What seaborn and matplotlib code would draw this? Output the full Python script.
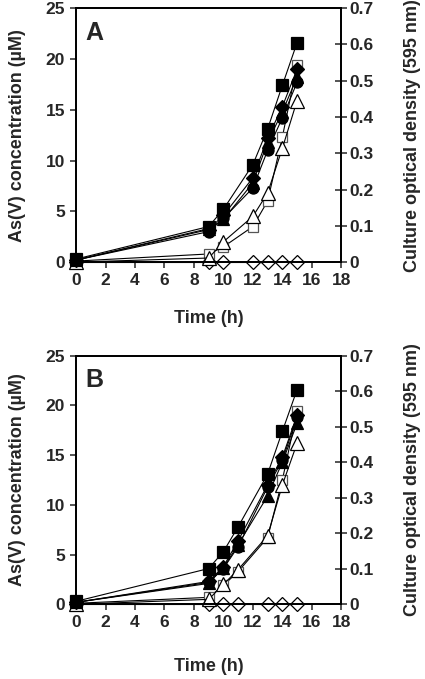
import matplotlib
matplotlib.use("Agg")
import matplotlib.pyplot as plt
import seaborn as sns
import pandas as pd

sns.set_style("white")
plt.rcParams.update({
    "font.family": ["Liberation Sans", "DejaVu Sans"],
    "font.weight": "bold",
    "axes.labelweight": "bold",
    "axes.linewidth": 1.3,
})

# ── Data (As(V) concentration, uM) ─────────────────────────
time_a = [0, 9, 10, 12, 13, 14, 15]
time_b = [0, 9, 10, 11, 13, 14, 15]

panel_a = {
    "open_diamond":  [0.0, 0.0, 0.0, 0.0, 0.0, 0.0, 0.0],
    "open_square":   [0.1, 0.8, 1.5, 3.5, 6.0, 12.3, 19.4],
    "open_triangle": [0.0, 0.4, 2.0, 4.5, 6.8, 11.2, 15.9],
    "circle":        [0.2, 3.0, 4.3, 7.3, 11.0, 14.2, 17.7],
    "triangle":      [0.2, 3.3, 4.2, 7.8, 11.8, 14.8, 18.2],
    "diamond":       [0.2, 3.2, 4.6, 8.3, 12.2, 15.3, 19.0],
    "square":        [0.3, 3.5, 5.2, 9.6, 13.1, 17.4, 21.6],
}
panel_b = {
    "open_diamond":  [0.0, 0.0, 0.0, 0.0, 0.0, 0.0, 0.0],
    "open_square":   [0.1, 0.7, 1.9, 3.3, 6.7, 12.5, 19.4],
    "open_triangle": [0.0, 0.5, 2.0, 3.5, 6.9, 12.0, 16.2],
    "circle":        [0.2, 2.2, 3.6, 5.8, 11.8, 14.5, 18.8],
    "triangle":      [0.2, 2.1, 3.7, 6.0, 10.9, 14.3, 18.2],
    "diamond":       [0.2, 2.3, 3.8, 6.4, 12.0, 14.8, 19.0],
    "square":        [0.3, 3.6, 5.3, 7.8, 13.1, 17.4, 21.6],
}

STYLE = {
    "open_diamond":  dict(marker="D", ms=7.5, mfc="white", mec="black"),
    "open_square":   dict(marker="s", ms=7.5, mfc="white", mec="#555555"),
    "open_triangle": dict(marker="^", ms=9.5, mfc="white", mec="black"),
    "circle":        dict(marker="o", ms=8, mfc="black", mec="black"),
    "triangle":      dict(marker="^", ms=9, mfc="black", mec="black"),
    "diamond":       dict(marker="D", ms=7, mfc="black", mec="black"),
    "square":        dict(marker="s", ms=8.5, mfc="black", mec="black"),
}

LABEL_FS = 13
TICK_FS = 12.5

fig = plt.figure(figsize=(4.25, 6.79), dpi=100)
axes = [fig.add_axes([0.179, 0.614, 0.624, 0.374]),
        fig.add_axes([0.179, 0.110, 0.624, 0.366])]

for ax, t, data, letter, xpad in [(axes[0], time_a, panel_a, "A", 16),
                                  (axes[1], time_b, panel_b, "B", 20)]:
    for name, vals in data.items():
        df = pd.DataFrame({"t": t, "v": vals})
        sns.lineplot(data=df, x="t", y="v", ax=ax, color="black", lw=0.8,
                     sort=False, estimator=None, markeredgewidth=0.9,
                     clip_on=False, **STYLE[name])
    ax.set_xlim(0, 18)
    ax.set_ylim(0, 25)
    ax.set_xticks(range(0, 19, 2))
    ax.set_yticks(range(0, 26, 5))
    ax.tick_params(direction="out", length=4, width=1.1, labelsize=TICK_FS,
                   pad=4, left=True, bottom=True)
    for lab in ax.get_xticklabels() + ax.get_yticklabels():
        lab.set_fontweight("bold")
    ax.set_xlabel("Time (h)", fontsize=LABEL_FS, labelpad=xpad)
    ax.set_ylabel("As(V) concentration (\u00b5M)", fontsize=LABEL_FS,
                  labelpad=14)
    ax.text(0.035, 0.95, letter, transform=ax.transAxes, fontsize=18,
            fontweight="bold", va="top", ha="left")

    ax2 = ax.twinx()
    ax2.set_ylim(0, 0.7)
    ax2.set_yticks([0, 0.1, 0.2, 0.3, 0.4, 0.5, 0.6, 0.7])
    ax2.set_yticklabels(["0", "0.1", "0.2", "0.3", "0.4", "0.5", "0.6", "0.7"])
    ax2.tick_params(direction="inout", length=8, width=1.1,
                    labelsize=TICK_FS, pad=2, right=True)
    for lab in ax2.get_yticklabels():
        lab.set_fontweight("bold")
    ax2.set_ylabel("Culture optical density (595 nm)", fontsize=LABEL_FS,
                   fontweight="bold", labelpad=22)
    for a in (ax, ax2):
        for s in a.spines.values():
            s.set_linewidth(1.3)
            s.set_color("black")

fig.savefig("out.png", dpi=100, facecolor="white")
